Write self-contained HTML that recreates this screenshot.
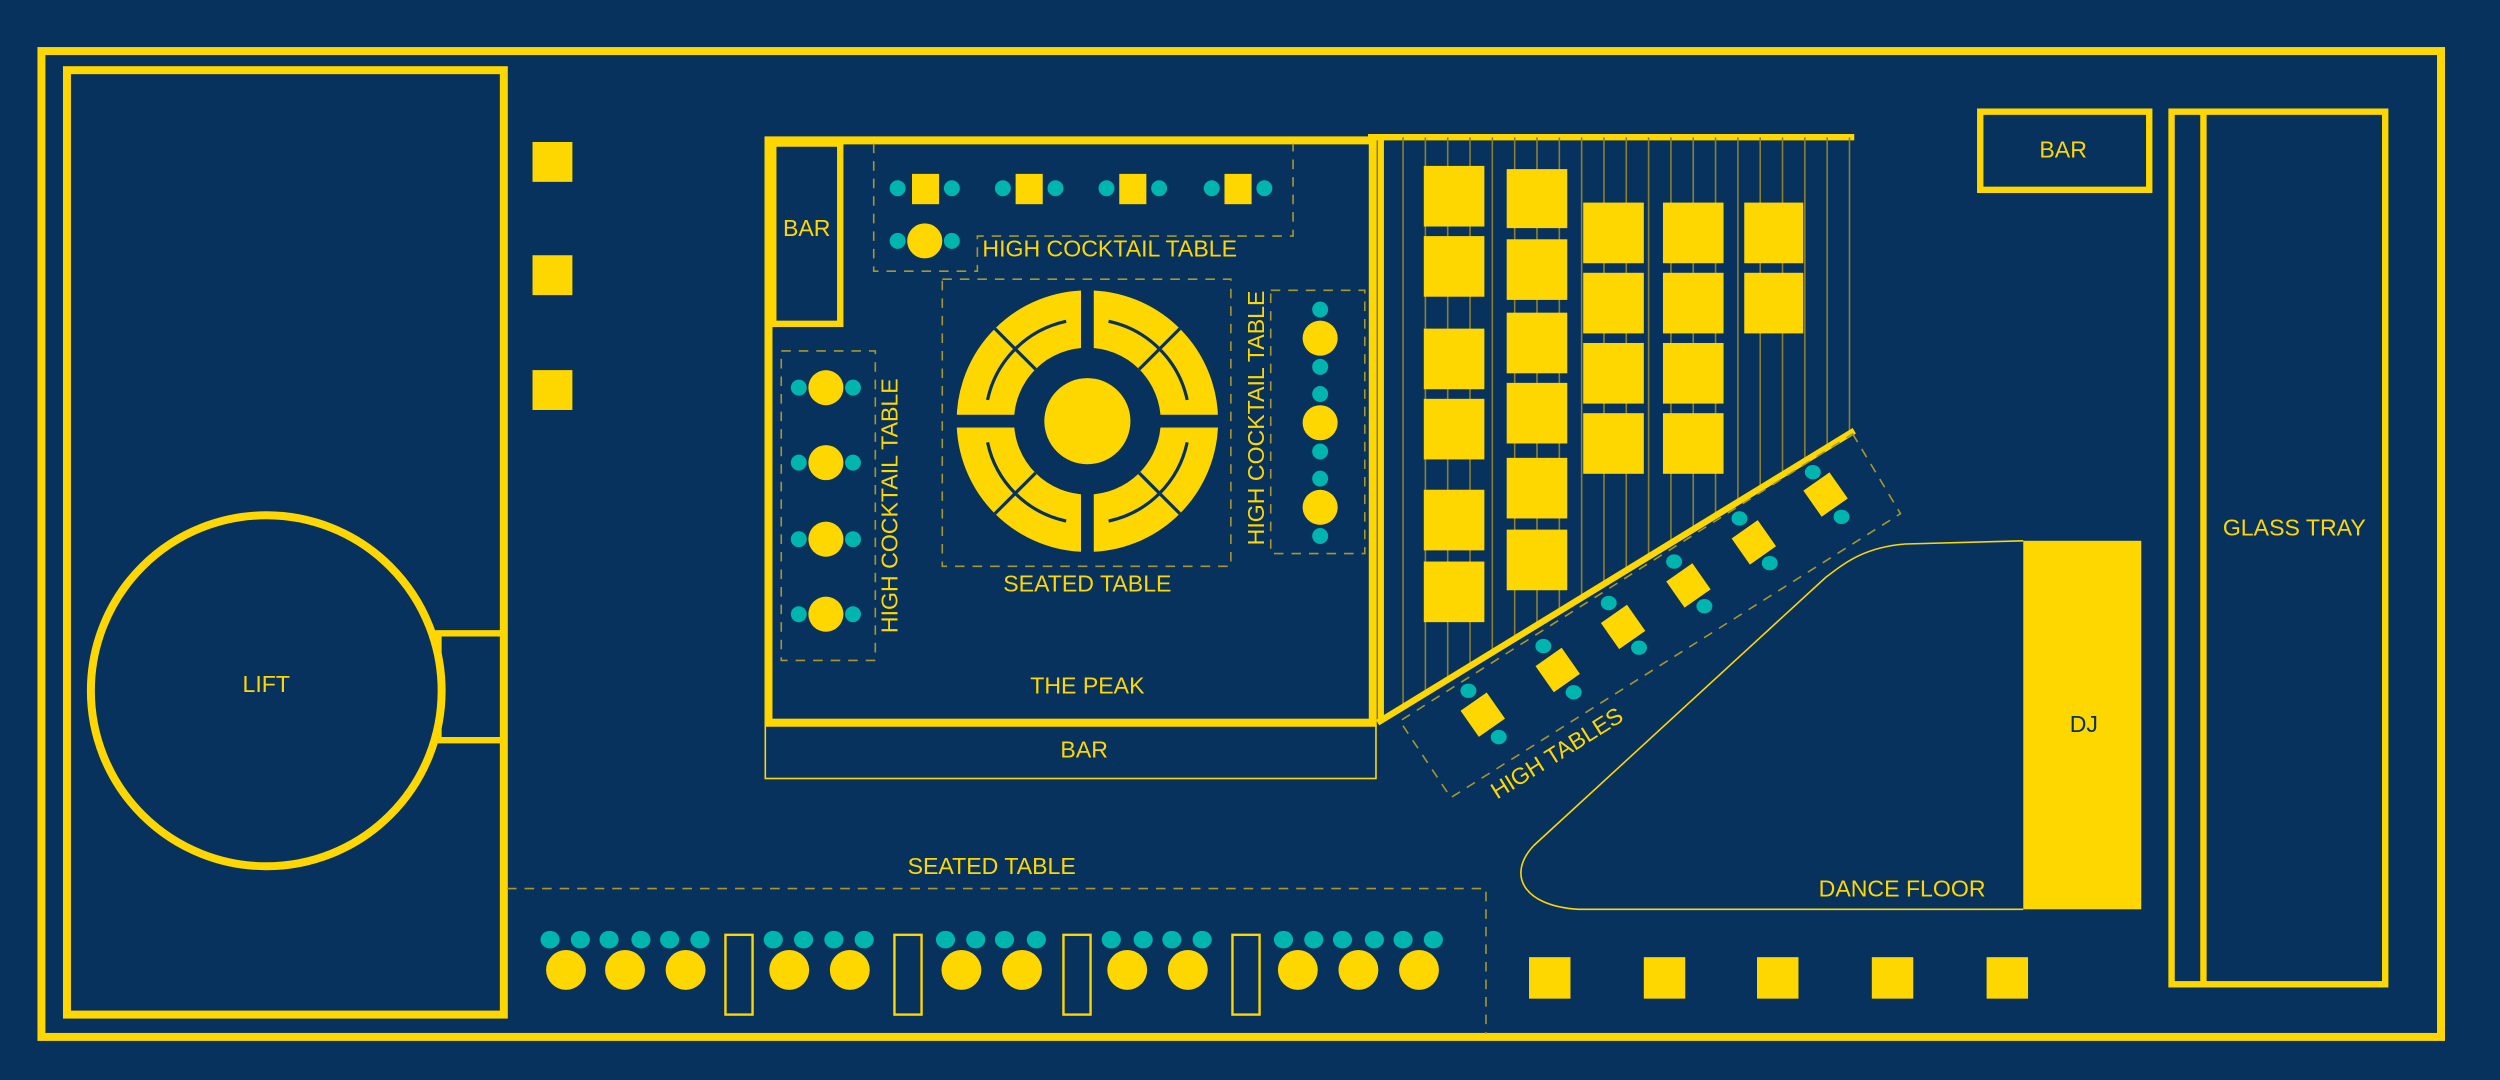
<!DOCTYPE html>
<html><head><meta charset="utf-8"><style>
html,body{margin:0;padding:0;background:#08325e;}
svg{display:block;}
text{font-family:"Liberation Sans Narrow","Liberation Sans",sans-serif;fill:#ffd700;font-size:14.5px;text-anchor:middle;dominant-baseline:middle;}
</style></head><body>
<svg width="2500" height="1080" viewBox="0 0 1568 677" preserveAspectRatio="none" xmlns="http://www.w3.org/2000/svg">
<defs>
<clipPath id="gc"><polygon points="866,86 1162,86 1162,270 866,452"/></clipPath>
</defs>
<rect width="1568" height="677" fill="#08325e"/>
<g fill="none" stroke="#ffd700">
<rect x="26" y="32" width="1505" height="618" stroke-width="5"/>
<rect x="42" y="44" width="274" height="592" stroke-width="5"/>
<rect x="275" y="397" width="41" height="67" stroke-width="4"/>
<circle cx="167" cy="433" r="110" stroke-width="5" fill="#08325e"/>
<rect x="482" y="88" width="379" height="365" stroke-width="5"/>
<rect x="485" y="90" width="42" height="113" stroke-width="4"/>
<rect x="480" y="455" width="383" height="33" stroke-width="1"/>
<line x1="858" y1="86" x2="1163" y2="86" stroke-width="4"/>
<rect x="1242" y="70" width="106" height="49" stroke-width="4"/>
<rect x="1362" y="70" width="134" height="547" stroke-width="4"/>
<line x1="1382" y1="70" x2="1382" y2="617" stroke-width="4"/>
<path d="M1269,339 L1195,341 C1170,343 1158,352 1145,362 L962,530 C945,548 955,568 990,570 L1269,570" stroke-width="1"/>
</g>
<g clip-path="url(#gc)" stroke="#8a8030" stroke-width="1">
<line x1="880" y1="86" x2="880" y2="460"/><line x1="894" y1="86" x2="894" y2="460"/><line x1="908" y1="86" x2="908" y2="460"/><line x1="922" y1="86" x2="922" y2="460"/><line x1="936" y1="86" x2="936" y2="460"/><line x1="950" y1="86" x2="950" y2="460"/><line x1="964" y1="86" x2="964" y2="460"/><line x1="978" y1="86" x2="978" y2="460"/><line x1="992" y1="86" x2="992" y2="460"/><line x1="1006" y1="86" x2="1006" y2="460"/><line x1="1020" y1="86" x2="1020" y2="460"/><line x1="1034" y1="86" x2="1034" y2="460"/><line x1="1048" y1="86" x2="1048" y2="460"/><line x1="1062" y1="86" x2="1062" y2="460"/><line x1="1076" y1="86" x2="1076" y2="460"/><line x1="1090" y1="86" x2="1090" y2="460"/><line x1="1104" y1="86" x2="1104" y2="460"/><line x1="1118" y1="86" x2="1118" y2="460"/><line x1="1132" y1="86" x2="1132" y2="460"/><line x1="1146" y1="86" x2="1146" y2="460"/><line x1="1160" y1="86" x2="1160" y2="460"/>
</g>
<line x1="866" y1="86" x2="866" y2="452" stroke="#ffd700" stroke-width="4"/>
<line x1="864" y1="453" x2="1163" y2="270" stroke="#ffd700" stroke-width="4"/>
<g fill="#ffd700">
<rect x="334" y="89" width="25" height="25"/><rect x="334" y="160" width="25" height="25"/><rect x="334" y="232" width="25" height="25"/>
<rect x="893" y="104" width="38" height="38"/><rect x="893" y="148" width="38" height="38"/><rect x="893" y="206" width="38" height="38"/><rect x="893" y="250" width="38" height="38"/><rect x="893" y="307" width="38" height="38"/><rect x="893" y="352" width="38" height="38"/>
<rect x="945" y="106" width="38" height="37"/><rect x="945" y="150" width="38" height="38"/><rect x="945" y="196" width="38" height="38"/><rect x="945" y="240" width="38" height="38"/><rect x="945" y="287" width="38" height="38"/><rect x="945" y="332" width="38" height="38"/>
<rect x="993" y="127" width="38" height="38"/><rect x="993" y="171" width="38" height="38"/><rect x="993" y="215" width="38" height="38"/><rect x="993" y="259" width="38" height="38"/>
<rect x="1043" y="127" width="38" height="38"/><rect x="1043" y="171" width="38" height="38"/><rect x="1043" y="215" width="38" height="38"/><rect x="1043" y="259" width="38" height="38"/>
<rect x="1094" y="127" width="37" height="38"/><rect x="1094" y="171" width="37" height="38"/>
<rect x="959" y="600" width="26" height="26"/><rect x="1031" y="600" width="26" height="26"/><rect x="1102" y="600" width="26" height="26"/><rect x="1174" y="600" width="26" height="26"/><rect x="1246" y="600" width="26" height="26"/>
<rect x="1269" y="339" width="74" height="231"/>
</g>
<g fill="none" stroke="#a8972a" stroke-width="1" stroke-dasharray="6,5">
<path d="M548,90 L548,170 L613,170 L613,148 L811,148 L811,90"/>
<rect x="591" y="175" width="181" height="180"/>
<rect x="490" y="220" width="59" height="194"/>
<rect x="797" y="182" width="59" height="165"/>
<polygon points="1162,272 1192,322 910,500 878,452"/>
<path d="M318,557 L932,557 L932,648"/>
</g>
<g fill="#ffd700">
<rect x="572" y="109" width="17" height="19"/><rect x="637" y="109" width="17" height="19"/><rect x="702" y="109" width="17" height="19"/><rect x="768" y="109" width="17" height="19"/>
<ellipse cx="580" cy="151" rx="11" ry="11"/>
<ellipse cx="518" cy="243" rx="11" ry="11"/><ellipse cx="518" cy="290" rx="11" ry="11"/><ellipse cx="518" cy="338" rx="11" ry="11"/><ellipse cx="518" cy="385" rx="11" ry="11"/>
<ellipse cx="828" cy="212" rx="11" ry="11"/><ellipse cx="828" cy="265" rx="11" ry="11"/><ellipse cx="828" cy="318" rx="11" ry="11"/>
</g>
<g fill="#00b5ad">
<circle cx="563" cy="118" r="5"/><circle cx="597" cy="118" r="5"/><circle cx="629" cy="118" r="5"/><circle cx="662" cy="118" r="5"/><circle cx="694" cy="118" r="5"/><circle cx="727" cy="118" r="5"/><circle cx="760" cy="118" r="5"/><circle cx="793" cy="118" r="5"/>
<circle cx="563" cy="151" r="5"/><circle cx="597" cy="151" r="5"/>
<circle cx="501" cy="243" r="5"/><circle cx="535" cy="243" r="5"/><circle cx="501" cy="290" r="5"/><circle cx="535" cy="290" r="5"/><circle cx="501" cy="338" r="5"/><circle cx="535" cy="338" r="5"/><circle cx="501" cy="385" r="5"/><circle cx="535" cy="385" r="5"/>
<circle cx="828" cy="194" r="5"/><circle cx="828" cy="230" r="5"/><circle cx="828" cy="247" r="5"/><circle cx="828" cy="283" r="5"/><circle cx="828" cy="300" r="5"/><circle cx="828" cy="336" r="5"/>
</g>
<circle cx="682" cy="264" r="64" fill="none" stroke="#ffd700" stroke-width="36"/>
<g stroke="#08325e" stroke-width="2" fill="none">
<path d="M619.4,250.7 A64,64 0 0 1 668.7,201.4"/>
<path d="M695.3,201.4 A64,64 0 0 1 744.6,250.7"/>
<path d="M744.6,277.3 A64,64 0 0 1 695.3,326.6"/>
<path d="M668.7,326.6 A64,64 0 0 1 619.4,277.3"/>
<line x1="624" y1="206" x2="649.5" y2="231.5"/><line x1="740" y1="206" x2="714.5" y2="231.5"/><line x1="624" y1="322" x2="649.5" y2="296.5"/><line x1="740" y1="322" x2="714.5" y2="296.5"/>
</g>
<rect x="678" y="178" width="8" height="172" fill="#08325e"/>
<rect x="596" y="260" width="172" height="8" fill="#08325e"/>
<circle cx="682" cy="264" r="27" fill="#ffd700"/>
<g fill="#ffd700">
<rect x="-10" y="-10" width="20" height="20" transform="translate(930,448) rotate(-35)"/>
<rect x="-10" y="-10" width="20" height="20" transform="translate(977,420) rotate(-35)"/>
<rect x="-10" y="-10" width="20" height="20" transform="translate(1018,393) rotate(-35)"/>
<rect x="-10" y="-10" width="20" height="20" transform="translate(1059,367) rotate(-35)"/>
<rect x="-10" y="-10" width="20" height="20" transform="translate(1100,340) rotate(-35)"/>
<rect x="-10" y="-10" width="20" height="20" transform="translate(1145,310) rotate(-35)"/>
</g>
<g fill="#00b5ad">
<ellipse cx="921" cy="433" rx="5" ry="4.5"/><ellipse cx="940" cy="462" rx="5" ry="4.5"/>
<ellipse cx="968" cy="405" rx="5" ry="4.5"/><ellipse cx="987" cy="434" rx="5" ry="4.5"/>
<ellipse cx="1009" cy="378" rx="5" ry="4.5"/><ellipse cx="1028" cy="406" rx="5" ry="4.5"/>
<ellipse cx="1050" cy="352" rx="5" ry="4.5"/><ellipse cx="1069" cy="380" rx="5" ry="4.5"/>
<ellipse cx="1091" cy="325" rx="5" ry="4.5"/><ellipse cx="1110" cy="353" rx="5" ry="4.5"/>
<ellipse cx="1137" cy="296" rx="5" ry="4.5"/><ellipse cx="1155" cy="324" rx="5" ry="4.5"/>
</g>
<g fill="#00b5ad">
<ellipse cx="345" cy="589" rx="6" ry="5.5"/><ellipse cx="364" cy="589" rx="6" ry="5.5"/><ellipse cx="382" cy="589" rx="6" ry="5.5"/><ellipse cx="402" cy="589" rx="6" ry="5.5"/><ellipse cx="420" cy="589" rx="6" ry="5.5"/><ellipse cx="439" cy="589" rx="6" ry="5.5"/>
<ellipse cx="485" cy="589" rx="6" ry="5.5"/><ellipse cx="504" cy="589" rx="6" ry="5.5"/><ellipse cx="523" cy="589" rx="6" ry="5.5"/><ellipse cx="542" cy="589" rx="6" ry="5.5"/>
<ellipse cx="593" cy="589" rx="6" ry="5.5"/><ellipse cx="612" cy="589" rx="6" ry="5.5"/><ellipse cx="630" cy="589" rx="6" ry="5.5"/><ellipse cx="650" cy="589" rx="6" ry="5.5"/>
<ellipse cx="697" cy="589" rx="6" ry="5.5"/><ellipse cx="717" cy="589" rx="6" ry="5.5"/><ellipse cx="735" cy="589" rx="6" ry="5.5"/><ellipse cx="754" cy="589" rx="6" ry="5.5"/>
<ellipse cx="805" cy="589" rx="6" ry="5.5"/><ellipse cx="824" cy="589" rx="6" ry="5.5"/><ellipse cx="842" cy="589" rx="6" ry="5.5"/><ellipse cx="862" cy="589" rx="6" ry="5.5"/><ellipse cx="880" cy="589" rx="6" ry="5.5"/><ellipse cx="899" cy="589" rx="6" ry="5.5"/>
</g>
<g fill="#ffd700">
<ellipse cx="355" cy="608" rx="12.5" ry="12.5"/><ellipse cx="392" cy="608" rx="12.5" ry="12.5"/><ellipse cx="430" cy="608" rx="12.5" ry="12.5"/>
<ellipse cx="495" cy="608" rx="12.5" ry="12.5"/><ellipse cx="533" cy="608" rx="12.5" ry="12.5"/>
<ellipse cx="603" cy="608" rx="12.5" ry="12.5"/><ellipse cx="641" cy="608" rx="12.5" ry="12.5"/>
<ellipse cx="707" cy="608" rx="12.5" ry="12.5"/><ellipse cx="745" cy="608" rx="12.5" ry="12.5"/>
<ellipse cx="814" cy="608" rx="12.5" ry="12.5"/><ellipse cx="852" cy="608" rx="12.5" ry="12.5"/><ellipse cx="890" cy="608" rx="12.5" ry="12.5"/>
</g>
<g fill="none" stroke="#ffd700" stroke-width="1.5">
<rect x="455" y="586" width="17" height="50"/><rect x="561" y="586" width="17" height="50"/><rect x="667" y="586" width="17" height="50"/><rect x="773" y="586" width="17" height="50"/>
</g>
<text x="167" y="430">LIFT</text>
<text x="506" y="144">BAR</text>
<text x="696" y="157">HIGH COCKTAIL TABLE</text>
<text x="682" y="367">SEATED TABLE</text>
<text x="682" y="431">THE PEAK</text>
<text x="680" y="471">BAR</text>
<text transform="translate(559,317) rotate(-90)">HIGH COCKTAIL TABLE</text>
<text transform="translate(789,262) rotate(-90)">HIGH COCKTAIL TABLE</text>
<text transform="translate(977,473) rotate(-32)">HIGH TABLES</text>
<text x="1294" y="95">BAR</text>
<text x="1439" y="332">GLASS TRAY</text>
<text x="1307" y="455" style="fill:#08325e">DJ</text>
<text x="1193" y="558">DANCE FLOOR</text>
<text x="622" y="544">SEATED TABLE</text>
</svg>
</body></html>
